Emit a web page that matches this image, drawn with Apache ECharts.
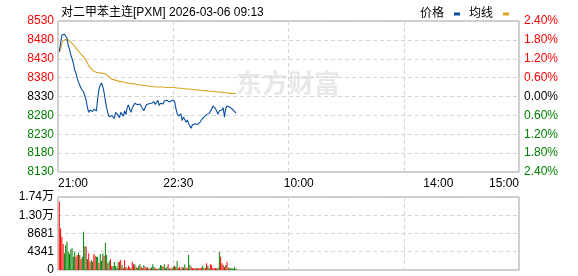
<!DOCTYPE html>
<html><head><meta charset="utf-8">
<script src="https://cdn.jsdelivr.net/npm/echarts@6/dist/echarts.min.js"></script>
<style>html,body{margin:0;padding:0;background:#fff}#c{width:578px;height:276px}</style>
</head><body><div id="c"></div>
<script>
const titleText = '对二甲苯主连[PXM] 2026-03-06 09:13';
const seriesNames = ['价格', '均线'];
const prevClose = 8330;
const xTickLabels = ['21:00', '22:30', '10:00', '14:00', '15:00'];
const xTickMinutes = [0, 94, 188, 297, 360];
const volTickLabels = ['0', '4341', '8681', '1.30万', '1.74万'];
const volMax = 17362;

const price = [
 8449,8470,8493,8493,8495,8500,8485,8465,8455,8440,
 8430,8418,8400,8392,8378,8368,8364,8352,8350,8342,
 8340,8320,8300,8288,8294,8298,8290,8296,8300,8292,
 8325,8350,8360,8366,8356,8340,8318,8300,8285,8276,
 8274,8280,8283,8272,8288,8292,8280,8274,8288,8284,
 8278,8292,8282,8300,8308,8296,8288,8300,8306,8312,
 8315,8308,8312,8310,8306,8298,8292,8300,8308,8313,
 8311,8314,8312,8308,8316,8309,8312,8320,8306,8312,
 8316,8310,8318,8314,8320,8316,8315,8318,8320,8316,
 8318,8300,8285,8278,8276,8284,8266,8276,8272,8262,
 8268,8258,8254,8246,8255,8257,8258,8257,8256,8258,
 8262,8268,8272,8276,8278,8282,8278,8286,8282,8296,
 8305,8310,8298,8290,8283,8292,8288,8294,8300,8275,
 8298,8305,8310,8302,8298,8297,8300,8290,8286
];
const avgPrice = [
 8448,8455,8470,8478,8480,8481,8481,8480,8477,8474,
 8471,8467,8463,8459,8455,8450,8446,8442,8438,8435,
 8431,8425,8418,8412,8407,8403,8400,8397,8395,8394,
 8393,8393,8393,8392,8392,8391,8390,8388,8385,8382,
 8378,8376,8375,8374,8373,8372,8371,8370,8369,8369,
 8368,8367,8366,8366,8365,8365,8364,8364,8363,8363,
 8362,8362,8361,8361,8360,8360,8359,8359,8358,8358,
 8357,8357,8357,8356,8356,8356,8356,8355,8355,8355,
 8355,8355,8354,8354,8354,8354,8354,8354,8354,8354,
 8354,8353,8353,8352,8352,8352,8351,8351,8351,8350,
 8350,8350,8350,8349,8349,8348,8348,8348,8347,8347,
 8347,8346,8346,8346,8345,8345,8345,8344,8344,8344,
 8343,8343,8343,8342,8342,8342,8341,8341,8341,8340,
 8340,8340,8339,8339,8339,8338,8338,8338,8338
];
const volume = [
 16250,9900,7900,6200,3960,5950,6740,4360,3800,4910,
 5150,3170,4200,3170,3560,4120,3560,2600,3170,9100,
 5700,5550,2540,3960,1980,2380,1980,3800,3400,3170,
 3170,1740,3800,2220,3960,3400,6500,3560,1580,2140,
 2540,950,950,1900,1030,600,1820,1980,2380,1190,
 500,2380,700,400,1030,630,400,1980,1350,1350,
 790,500,1030,1350,790,400,1190,790,550,710,
 300,400,600,1350,790,400,240,320,500,1190,
 1030,790,1350,400,790,1350,400,300,550,790,
 1030,790,2140,400,790,300,790,550,1350,550,
 400,3570,1190,790,400,400,400,400,400,400,
 400,550,1030,400,550,1590,1030,400,1350,1190,
 550,400,400,400,550,4360,3170,1590,1190,700,
 1190,1980,550,400,550,400,300,790,300
];
const volumeUp = [
 1,1,1,1,0,0,0,0,0,0,
 0,0,0,1,1,0,1,1,0,0,
 0,1,0,1,1,0,0,1,1,0,
 0,1,0,0,0,1,0,0,1,0,
 1,1,0,0,0,0,0,1,1,0,
 1,1,0,1,1,1,0,1,1,0,
 1,0,0,0,1,1,0,1,1,0,
 1,1,0,0,0,1,1,1,0,0,
 0,1,0,0,0,1,0,1,1,0,
 1,0,0,1,1,0,1,0,0,1,
 1,0,0,1,1,1,1,0,1,1,
 1,1,0,0,1,1,0,0,1,1,
 1,1,1,0,1,0,1,1,1,1,
 0,1,1,0,0,0,0,0,0
];

const RED = '#ff0000', GREEN = '#008000', BLACK = '#000000';
const FONT = 'Liberation Sans, Noto Sans CJK SC, sans-serif';
const gridLine = { show: true, lineStyle: { type: [4, 3], color: '#d4d4d4', width: 1 } };

const chart = echarts.init(document.getElementById('c'), null, { renderer: 'canvas' });
chart.setOption({
  animation: false,
  backgroundColor: '#ffffff',
  textStyle: { fontFamily: FONT },
  title: { text: titleText, left: 56, top: 2, textStyle: { fontSize: 12, fontWeight: 'normal', color: '#000', fontFamily: FONT } },
  legend: {
    data: seriesNames, top: 3, right: 64, align: 'right', icon: 'rect', itemWidth: 6, itemHeight: 3,
    itemGap: 9, textStyle: { fontSize: 12, color: '#000', padding: [0, 5, 0, 0] }
  },
  graphic: [{
    type: 'text', left: 236, top: 70, z: 0, silent: true,
    style: { text: '东方财富', fontSize: 26, fontWeight: 'bold', fill: '#e8e8e8', fontFamily: 'Noto Sans CJK SC' }
  }],
  grid: [
    { left: 58, right: 59, top: 21, bottom: 104, show: true, borderColor: '#9a9a9a', borderWidth: 1 },
    { left: 58, right: 59, top: 197, bottom: 6, show: true, borderColor: '#9a9a9a', borderWidth: 1 }
  ],
  xAxis: [
    { gridIndex: 0, type: 'value', min: 0, max: 360, interval: 90, axisLine: { show: false }, axisTick: { show: false }, axisLabel: { show: false }, splitLine: gridLine },
    { gridIndex: 0, type: 'value', min: 0, max: 360, position: 'bottom', axisLine: { show: false }, axisTick: { show: false }, splitLine: { show: false },
      axisLabel: { customValues: xTickMinutes, formatter: v => xTickLabels[xTickMinutes.indexOf(v)], alignMinLabel: 'left', alignMaxLabel: 'right', fontSize: 12, color: '#000', margin: 6 } },
    { gridIndex: 1, type: 'value', min: 0, max: 360, interval: 90, axisLine: { show: false }, axisTick: { show: false }, axisLabel: { show: false }, splitLine: gridLine }
  ],
  yAxis: [
    { gridIndex: 0, type: 'value', min: 8130, max: 8530, interval: 50, position: 'left', axisLine: { show: false }, axisTick: { show: false }, splitLine: gridLine,
      axisLabel: { fontSize: 12, margin: 4, formatter: v => String(Math.round(v)), color: v => v > prevClose ? RED : (v < prevClose ? GREEN : BLACK) } },
    { gridIndex: 0, type: 'value', min: -2.4, max: 2.4, interval: 0.6, position: 'right', axisLine: { show: false }, axisTick: { show: false }, splitLine: { show: false },
      axisLabel: { fontSize: 12, margin: 5, formatter: v => Math.abs(v).toFixed(2) + '%', color: v => v > 1e-9 ? RED : (v < -1e-9 ? GREEN : BLACK) } },
    { gridIndex: 1, type: 'value', min: 0, max: volMax, interval: volMax / 4, position: 'left', axisLine: { show: false }, axisTick: { show: false }, splitLine: gridLine,
      axisLabel: { fontSize: 12, margin: 4, color: '#000', formatter: (v, i) => volTickLabels[i] } }
  ],
  series: [
    { name: seriesNames[0], type: 'line', xAxisIndex: 0, yAxisIndex: 0, showSymbol: false, symbol: 'none', z: 4,
      lineStyle: { color: '#0a4ea2', width: 1.1 }, itemStyle: { color: '#0a4ea2' },
      data: price.map((v, i) => [i + 1, v]) },
    { name: seriesNames[1], type: 'line', xAxisIndex: 0, yAxisIndex: 0, showSymbol: false, symbol: 'none', z: 3,
      lineStyle: { color: '#daa520', width: 1.1 }, itemStyle: { color: '#daa520' },
      data: avgPrice.map((v, i) => [i + 1, v]) },
    { name: 'vol', type: 'bar', xAxisIndex: 2, yAxisIndex: 2, barWidth: 1,
      data: volume.map((v, i) => ({ value: [i + 1, v], itemStyle: { color: volumeUp[i] ? RED : GREEN } })) }
  ]
});
</script></body></html>
